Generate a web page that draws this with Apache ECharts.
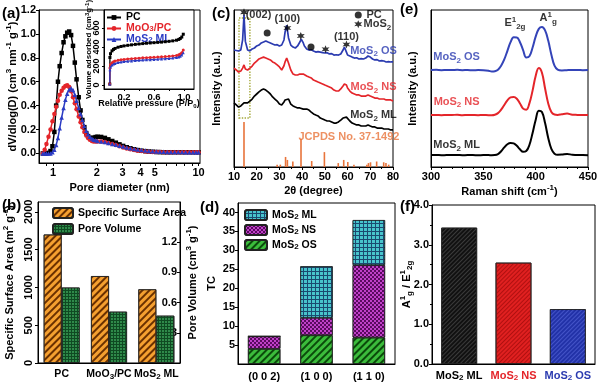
<!DOCTYPE html>
<html><head><meta charset="utf-8">
<script src="https://cdn.jsdelivr.net/npm/echarts@6/dist/echarts.min.js"></script>
<style>html,body{margin:0;padding:0;background:#fff}#c{width:600px;height:386px}</style>
</head><body><div id="c"></div>
<script>
// ---------- DATA ----------
// (a) pore size distribution
const poreD = [0.85,0.875,0.90,0.93,0.96,0.99,1.02,1.05,1.08,1.11,1.145,1.18,1.215,1.25,1.29,1.33,1.37,1.41,1.45,1.50,1.545,1.59,1.64,1.69,1.74,1.79,1.85,1.90,1.96,2.02,2.14,2.27,2.40,2.55,2.70,2.86,3.03,3.21,3.40,3.61,3.82,4.05,4.30,4.55,4.83,5.12,5.42,5.75,6.1,6.45,6.85,7.25,7.7,8.15,8.65,9.15,9.6,10.0];
const pvPC = [0,0,0,0.005,0.02,0.06,0.18,0.4,0.6,0.73,0.84,0.93,0.98,1.01,1.02,0.99,0.9,0.76,0.62,0.47,0.36,0.28,0.22,0.17,0.145,0.13,0.128,0.132,0.137,0.14,0.138,0.13,0.118,0.104,0.09,0.076,0.063,0.052,0.043,0.035,0.028,0.023,0.019,0.016,0.014,0.012,0.011,0.01,0.01,0.01,0.01,0.01,0.01,0.01,0.01,0.01,0.01,0.01];
const pvMoO3 = [0,0.03,0.08,0.14,0.2,0.27,0.33,0.39,0.44,0.49,0.525,0.55,0.565,0.57,0.555,0.52,0.47,0.42,0.37,0.31,0.26,0.22,0.18,0.15,0.13,0.115,0.105,0.1,0.1,0.1,0.1,0.095,0.088,0.08,0.07,0.06,0.05,0.042,0.035,0.028,0.023,0.02,0.017,0.015,0.013,0.012,0.011,0.01,0.01,0.01,0.01,0.01,0.01,0.01,0.01,0.01,0.01,0.01];
const pvMoS2 = [0,0,0,0,0,0.01,0.03,0.07,0.13,0.21,0.3,0.38,0.45,0.5,0.535,0.545,0.53,0.49,0.44,0.38,0.33,0.28,0.23,0.19,0.16,0.14,0.125,0.115,0.11,0.105,0.1,0.095,0.088,0.08,0.072,0.065,0.057,0.05,0.043,0.037,0.032,0.028,0.024,0.021,0.018,0.016,0.015,0.014,0.013,0.012,0.012,0.011,0.011,0.01,0.01,0.01,0.01,0.01];
// (a) inset isotherms
const isoP = [0.01,0.012,0.02,0.04,0.06,0.08,0.12,0.16,0.2,0.25,0.3,0.35,0.4,0.45,0.5,0.55,0.6,0.65,0.7,0.75,0.8,0.85,0.9,0.93,0.95,0.97,0.99];
const isoPC = [10,290,330,360,375,385,398,406,412,418,423,428,432,436,440,443,446,449,452,456,460,465,472,480,490,505,535];
const isoMoO3 = [10,180,215,235,245,252,260,266,270,274,277,280,283,286,288,290,292,294,297,299,302,306,312,318,326,340,370];
const isoMoS2 = [10,160,190,210,220,227,236,242,247,251,254,257,260,263,265,267,270,272,275,277,280,284,290,296,304,316,340];
// (b)
const bCats = ['PC','MoO_{3}/PC','MoS_{2} ML'];
const ssa = [1700,1150,975];
const poreVol = [0.75,0.51,0.47];
// (c) XRD
const xrdAngle = [10,11,12,13,13.8,14.4,15,16,17,18,19,20,21,22,23,24,25,26,27,28,29,30,31,32,32.5,33.2,34,35,36,37,38,39,39.6,40.5,41,42,43,44,45,46,47,48,49,50,51,52,53,54,55,56,57,58,58.6,59.5,60,61,62,63,64,65,66,67,68,69,70,71,72,73,74,75,76,77,78,79,80];
const xrdOS = [74.5,74.2,73.9,74.6,81,96.8,80,74.5,73.9,75.2,75.8,77.1,77.7,79,79.6,80.3,79.6,79,78.3,77.7,77.9,77.1,77.7,80.9,86,90.4,82.2,77.7,76.4,75.8,77.1,79.6,81.5,79,77.1,75.2,74.5,74.7,73.9,73.2,73.5,73.2,72.9,72.6,72.8,72,72.2,71.3,71.5,71.3,72,74.5,76.4,73.2,71.3,70.7,70,69.4,69.6,68.8,69,68.8,69.4,70.7,70,68.8,68.2,68.4,67.5,67.7,67.5,66.9,67.1,66.9,66.9];
const xrdNS = [63,61.8,60.5,61.1,63,65,62.4,61.8,63,64.3,66.2,67.5,68.8,69.4,70,69.4,68.8,68.2,66.9,66.2,65,63.7,61.8,64.5,67,69.4,66.2,61.8,59.2,58.6,58.6,59.2,59.9,59.2,58.6,58,57.3,56.7,55.4,54.8,54.1,53.5,52.9,52.2,51.6,51,50.3,49,48.4,48.4,49.7,51.6,52.9,52.2,50.3,48.4,47.1,46.5,45.9,45.9,45.2,45.2,45.2,45.9,45.2,44.6,43.9,43.9,43.3,43.3,43.3,42.7,42.7,42.7,42];
const xrdML = [40.8,39.5,38.2,38.9,40.1,40.8,40.1,40.8,42,43.3,45.2,46.5,47.8,49,49.7,49,47.8,46.5,44.6,43.3,42,40.1,39.5,41.4,42.7,43.9,43.3,40.1,38.9,38.2,37.6,37.6,37.6,36.9,36.9,36.9,36.3,35,33.8,33.1,32.5,31.2,30.6,29.9,29.3,29.3,28.7,28,28,28.7,29.9,31.2,31.8,31.8,30.6,29.3,28,27.4,26.8,26.8,26.1,26.1,26.1,26.8,26.1,25.5,25.5,24.8,24.8,24.8,24.2,24.2,24.2,23.6,23.6];
const jcpdsAngle = [14.4,29.0,30.4,32.7,33.5,35.9,39.5,44.2,49.8,55.9,58.3,60.1,62.8,68.5,69.2,70.1,72.8,75.9,76.9,78.1];
const jcpdsInt = [28.7,1.5,1.5,6.4,4.5,3.5,18,3.8,9.5,2.5,4.5,3.2,1.5,1.5,2.5,3,3.5,3,2.5,1.5];
const xrdStars = [[14.4,98.5],[33.5,88.5],[39.4,83.5],[50.3,75],[59.5,78],[64.7,91]];
const xrdDots = [[24.6,85.4],[43.9,76.4],[64.7,96.8]];
const xrdNotes = [['(002)',20.8,96.8,'#000'],['(100)',33.5,94,'#000'],['(110)',59.5,83,'#000'],['PC',71.7,96.8,'#000'],['MoS_{2}',73.1,91,'#000'],['MoS_{2} OS',71.4,74.1,'#2b3bb0'],['MoS_{2} NS',71.4,50.8,'#e4252a'],['MoS_{2} ML',71.4,33.1,'#000'],['JCPDS No. 37-1492',60.6,19.3,'#e8743b']];
// (d) texture coefficient
const tcCats = ['(0 0 2)','(1 0 0)','(1 1 0)'];
const tcOS = [4.0,7.6,7.0];
const tcNS = [3.3,4.6,19.1];
const tcML = [0,13.6,11.9];
// (e) Raman
const ramanShift = [300,305,310,315,320,325,330,335,340,345,350,355,358,361,364,367,370,373,376,379,382,385,388,391,394,397,400,403,406,409,412,415,418,421,425,430,435,440,445,450];
const ramanOS = [61.8,61.9,61.7,61.8,61.8,61.9,61.7,61.8,61.6,61.8,61.7,61.3,60.8,61.0,62.0,64.5,68.5,74,79.5,82.6,82.5,79.5,74.5,69.8,70.5,76,83,88,89.2,87,80.5,71.5,64.5,62,61.5,61.7,61.8,61.8,61.7,61.8];
const ramanNS = [33.1,33.2,33.0,33.1,33.1,33.3,33.0,33.2,33.1,33.0,33.1,33.0,33.0,33.3,34.3,36.5,39.5,42.5,44.3,44.6,43.5,40.5,37.2,36.5,40.5,48.5,58,63,60,50,40.5,35,33.4,33.2,33.6,34,33.3,33.2,33.1,33.1];
const ramanML = [7.6,7.7,7.5,7.6,7.6,7.7,7.5,7.6,7.6,7.5,7.6,7.6,7.5,7.6,8.2,10,12.5,14.5,15.3,15,13.5,11.3,9.7,10.2,14,21.5,30,35.8,35,28,18.5,11.5,8.5,7.8,7.9,8.3,7.8,7.6,7.6,7.5];
const ramanNotes = [['MoS_{2} OS',324.5,69.9,'#2b3bb0'],['MoS_{2} NS',324.5,41.6,'#e4252a'],['MoS_{2} ML',324.5,14,'#000'],['E^{1}_{2g}',380.2,91.5,'#000'],['A^{1}_{g}',412,94.7,'#000']];
// (f)
const fCats = ['MoS_{2} ML','MoS_{2} NS','MoS_{2} OS'];
const ratio = [3.43,2.55,1.38];

// ---------- STYLE ----------
const F = 'Liberation Sans';
const BLUE = '#2b3bc4', RED = '#e4252a', ORANGE = '#e8743b';
const RICH = {sub:{fontSize:8,lineHeight:8,verticalAlign:'bottom'}, sup:{fontSize:8,lineHeight:8,verticalAlign:'top'}};
const RICH_S = {sub:{fontSize:6,lineHeight:6,verticalAlign:'bottom'}, sup:{fontSize:6,lineHeight:6,verticalAlign:'top'}};
function md(s){return s.replace(/_\{([^}]*)\}/g,'{sub|$1}').replace(/\^\{([^}]*)\}/g,'{sup|$1}');}
function merge(a,b){const o=Object.assign({},a);for(const k in b){const v=b[k];if(v&&typeof v==='object'&&!Array.isArray(v)&&a&&a[k]&&typeof a[k]==='object'&&!Array.isArray(a[k]))o[k]=merge(a[k],v);else o[k]=v;}return o;}
const TXT = {color:'#000',fontFamily:F,fontWeight:'bold',fontSize:11};
const baseAxis = {
  axisLine:{show:true,onZero:false,lineStyle:{color:'#000',width:1}},
  axisTick:{show:true,length:3,lineStyle:{color:'#000',width:1}},
  axisLabel:Object.assign({margin:3,lineHeight:13,rich:RICH},TXT),
  splitLine:{show:false},
  nameLocation:'middle',
  nameMoveOverlap:false,
  nameTextStyle:Object.assign({lineHeight:15,rich:RICH},TXT)
};
const axis = o => { const r = merge(baseAxis,o); if (r.name) r.name = md(r.name); return r; };
const L10 = Math.log10;
const pairs = (xs,ys,fx)=>xs.map((x,i)=>[fx?fx(x):x,ys[i]]);
const minor = {show:true,splitNumber:2,length:2,lineStyle:{color:'#000'}};
const diag = (c,w,g)=>({symbol:'rect',symbolSize:1,color:c,dashArrayX:[1,0],dashArrayY:[w,g],rotation:-Math.PI/4});
const FCOL = ['#000',RED,'#2b3bb0'];
const FRICH = {};
FCOL.forEach((c,i)=>{FRICH['c'+i]={color:c,fontFamily:F,fontWeight:'bold',fontSize:11};FRICH['s'+i]={color:c,fontFamily:F,fontWeight:'bold',fontSize:8,lineHeight:8,verticalAlign:'bottom'};});
function colorRich(s,i){return s.split(/_\{([^}]*)\}/).map((p,j)=>p?`{${j%2?'s':'c'}${i}|${p}}`:'').join('');}
const disp = {'MoO3/PC':'MoO_{3}/PC','MoS2 ML':'MoS_{2} ML','TC-ML':'MoS_{2} ML','TC-NS':'MoS_{2} NS','TC-OS':'MoS_{2} OS'};

const grids = [
  {left:39,top:10,width:161,height:153},
  {left:104,top:10,width:90,height:79,backgroundColor:'#fff'},
  {left:38,top:202,width:142,height:161},
  {left:234,top:10,width:159,height:157},
  {left:238,top:203,width:157,height:161},
  {left:431,top:10,width:157,height:157},
  {left:432,top:205,width:163,height:159}
].map(g=>Object.assign({show:true,borderColor:'#000',borderWidth:1,containLabel:false,outerBoundsMode:'none'},g));

const series = [];
// (a)
[['PC',pvPC,'#000','rect'],['MoO3/PC',pvMoO3,RED,'circle'],['MoS2 ML',pvMoS2,BLUE,'triangle']].forEach(([n,d,c,s])=>{
  series.push({type:'line',name:n,xAxisIndex:0,yAxisIndex:0,data:pairs(poreD,d,L10),symbol:s,symbolSize:4.5,color:c,itemStyle:{color:c},lineStyle:{color:c,width:1.5}});
});
[['PC',isoPC,'#000','rect'],['MoO3/PC',isoMoO3,RED,'circle'],['MoS2 ML',isoMoS2,BLUE,'triangle']].forEach(([n,d,c,s])=>{
  series.push({type:'line',name:n,xAxisIndex:1,yAxisIndex:1,data:pairs(isoP,d),symbol:s,symbolSize:3,color:c,itemStyle:{color:c},lineStyle:{color:c,width:1.3},z:4});
});
// (b)
series.push({type:'bar',name:'Specific Surface Area',xAxisIndex:2,yAxisIndex:2,data:ssa,barWidth:18,barGap:'0%',
  itemStyle:{color:'#f5a030',borderColor:'#222',borderWidth:0.8,decal:diag('#6a3000',1.2,2.6)}});
series.push({type:'bar',name:'Pore Volume',xAxisIndex:2,yAxisIndex:3,data:poreVol,barWidth:18,barGap:'0%',
  itemStyle:{color:'#0f4a22',borderColor:'#222',borderWidth:0.8,decal:{symbol:'rect',symbolSize:1,color:'#2f8a4a',dashArrayX:[2,1],dashArrayY:[2,1]}}});
// (c)
[['XRD OS',xrdOS,'#2b3bb0'],['XRD NS',xrdNS,RED],['XRD ML',xrdML,'#000']].forEach(([n,d,c],k)=>{
  const s={type:'line',name:n,xAxisIndex:3,yAxisIndex:4,data:pairs(xrdAngle,d),symbol:'none',color:c,lineStyle:{color:c,width:1.7}};
  if(k===0) s.markArea={silent:true,itemStyle:{color:'rgba(0,0,0,0)',borderColor:'#a4a83a',borderWidth:1.4,borderType:'dotted'},data:[[{coord:[12.2,31.2]},{coord:[17,94.9]}]]};
  series.push(s);
});
series.push({type:'bar',name:'JCPDS',xAxisIndex:3,yAxisIndex:4,data:pairs(jcpdsAngle,jcpdsInt),barWidth:1.6,itemStyle:{color:ORANGE}});
series.push({type:'scatter',name:'stars',xAxisIndex:3,yAxisIndex:4,data:xrdStars,symbol:'path://M10 0L12.25 6.1L18.66 5L14.5 10L18.66 15L12.25 13.9L10 20L7.75 13.9L1.34 15L5.5 10L1.34 5L7.75 6.1Z',symbolSize:8,itemStyle:{color:'#000'},silent:true,z:6});
series.push({type:'scatter',name:'dots',xAxisIndex:3,yAxisIndex:4,data:xrdDots,symbol:'circle',symbolSize:7,itemStyle:{color:'#000'},silent:true,z:6});
const noteSeries=(notes,xi,yi)=>({type:'scatter',xAxisIndex:xi,yAxisIndex:yi,symbolSize:1,itemStyle:{color:'rgba(0,0,0,0)'},silent:true,z:7,
  label:{show:true,position:'inside',fontFamily:F,fontWeight:'bold',fontSize:11,lineHeight:15,rich:RICH},
  data:notes.map(n=>({value:[n[1],n[2]],label:{color:n[3],formatter:()=>md(n[0])}}))});
series.push(noteSeries(xrdNotes,3,4));
// (d)
[['TC-OS',tcOS,'#3cbc3c',diag('#0a4a0a',1.2,2.4)],
 ['TC-NS',tcNS,'#5a0a60',{symbol:'rect',symbolSize:1,color:'#c040c8',dashArrayX:[[2,2],[0,2,2,0]],dashArrayY:[2,0]}],
 ['TC-ML',tcML,'#1a4a70',{symbol:'rect',symbolSize:1,color:'#48c4cc',dashArrayX:[3,1],dashArrayY:[3,1]}]].forEach(([n,d,c,dec])=>{
  series.push({type:'bar',name:n,xAxisIndex:4,yAxisIndex:5,stack:'tc',data:d,barWidth:'62%',itemStyle:{color:c,borderColor:'#222',borderWidth:0.8,decal:dec}});
});
// (e)
[['Raman OS',ramanOS,'#3444b8'],['Raman NS',ramanNS,RED],['Raman ML',ramanML,'#000']].forEach(([n,d,c])=>{
  series.push({type:'line',name:n,xAxisIndex:5,yAxisIndex:6,data:pairs(ramanShift,d),symbol:'none',smooth:0.4,color:c,lineStyle:{color:c,width:2}});
});
series.push(noteSeries(ramanNotes,5,6));
// (f)
const fBase=['#111','#e02020','#2232a8'], fDec=['#3a3a3a','#b01010','#4454c8'];
series.push({type:'bar',name:'ratio',xAxisIndex:6,yAxisIndex:7,barWidth:'66%',
  data:ratio.map((v,i)=>({value:v,itemStyle:{color:fBase[i],borderColor:'#222',borderWidth:0.8,decal:diag(fDec[i],0.8,1.6)}}))});

const legText = {fontFamily:F,fontWeight:'bold',fontSize:10.5,color:'#000',rich:RICH};
const option = {
  animation:false,
  backgroundColor:'#fff',
  grid:grids,
  xAxis:[
    axis({gridIndex:0,type:'value',min:L10(0.8),max:1.01,name:'Pore diameter (nm)',nameGap:17,
      axisLabel:{customValues:[1,2,3,4,5,10].map(L10),formatter:v=>String(Math.round(Math.pow(10,v)))},
      axisTick:{customValues:[0.9,1,2,3,4,5,6,7,8,9,10].map(L10)}}),
    axis({gridIndex:1,type:'value',min:-0.067,max:1.133,name:'Relative pressure (P/P_{0})',nameGap:9,
      axisLabel:{fontSize:9.5,margin:2,customValues:[0.2,0.6,1.0],formatter:v=>v.toFixed(1)},
      axisTick:{length:2,customValues:[0.2,0.4,0.6,0.8,1.0]},nameTextStyle:{fontSize:9,lineHeight:11,rich:RICH_S}}),
    axis({gridIndex:2,type:'category',data:bCats,axisTick:{show:false},axisLabel:{margin:5,interval:0,fontSize:10.5,formatter:v=>md(v)}}),
    axis({gridIndex:3,type:'value',min:10,max:80,interval:10,name:'2θ (degree)',nameGap:16,minorTick:minor}),
    axis({gridIndex:4,type:'category',data:tcCats,axisTick:{show:false},axisLabel:{margin:6,interval:0}}),
    axis({gridIndex:5,type:'value',min:300,max:450,interval:50,name:'Raman shift (cm^{-1})',nameGap:17,minorTick:merge(minor,{splitNumber:5})}),
    axis({gridIndex:6,type:'category',data:fCats,axisTick:{show:false},axisLabel:{margin:5,interval:0,formatter:(v,i)=>colorRich(v,i),rich:FRICH}})
  ],
  yAxis:[
    axis({gridIndex:0,type:'value',min:-0.08,max:1.2,name:'dV/dlog(D) (cm^{3} nm^{-1} g^{-1})',nameGap:19,
      axisLabel:{customValues:[0,0.2,0.4,0.6,0.8,1.0,1.2],formatter:v=>v.toFixed(1)},axisTick:{customValues:[0,0.2,0.4,0.6,0.8,1.0,1.2]}}),
    axis({gridIndex:1,type:'value',min:-42,max:790,name:'Volume adsorbed (cm^{3}g^{-1})',nameGap:10,
      axisLabel:{fontSize:9,rotate:90,margin:1,customValues:[0,200,400,600],formatter:v=>String(v)},axisTick:{length:2,customValues:[0,200,400,600]},
      nameTextStyle:{fontSize:8,lineHeight:10,rich:RICH_S}}),
    axis({gridIndex:2,type:'value',min:0,max:2130,name:'Specific Surface Area (m^{2} g^{-1})',nameGap:21,
      axisLabel:{rotate:90,customValues:[0,500,1000,1500,2000],formatter:v=>String(v)},axisTick:{customValues:[0,500,1000,1500,2000]}}),
    axis({gridIndex:2,type:'value',position:'right',min:0,max:1.6,name:'Pore Volume (cm^{3} g^{-1})',nameGap:5,nameRotate:90,
      axisLabel:{inside:true,customValues:[0.3,0.6,0.9,1.2],formatter:v=>v.toFixed(1)},axisTick:{inside:true,customValues:[0.3,0.6,0.9,1.2,1.5]}}),
    axis({gridIndex:3,type:'value',min:0,max:100,name:'Intensity (a.u.)',nameGap:10,axisLabel:{show:false},axisTick:{show:false}}),
    axis({gridIndex:4,type:'value',min:0,max:42.5,name:'TC',nameGap:19,
      axisLabel:{customValues:[5,10,15,20,25,30,35,40]},axisTick:{customValues:[5,10,15,20,25,30,35,40]}}),
    axis({gridIndex:5,type:'value',min:0,max:100,name:'Intensity (a.u.)',nameGap:11,axisLabel:{show:false},axisTick:{show:false}}),
    axis({gridIndex:6,type:'value',min:0,max:4,interval:1,name:'A^{1}_{g} / E^{1}_{2g}',nameGap:18,
      axisLabel:{formatter:v=>v.toFixed(1)},minorTick:minor})
  ],
  legend:[
    {data:[{name:'PC',textStyle:{color:'#000'}},{name:'MoO3/PC',textStyle:{color:RED}},{name:'MoS2 ML',textStyle:{color:BLUE}}],
     left:106,top:12,orient:'vertical',itemWidth:14,itemHeight:6,itemGap:0,padding:0,selectedMode:false,
     textStyle:merge(legText,{lineHeight:9}),formatter:n=>md(disp[n]||n)},
    {data:['Specific Surface Area','Pore Volume'],left:52,top:207,orient:'vertical',itemWidth:20,itemHeight:10,itemGap:4,padding:0,selectedMode:false,
     textStyle:legText},
    {data:['TC-ML','TC-NS','TC-OS'],left:244,top:209,orient:'vertical',itemWidth:22,itemHeight:10,itemGap:3,padding:0,selectedMode:false,
     textStyle:legText,formatter:n=>md(disp[n]||n)}
  ],
  graphic:[['(a)',2,6],['(b)',2,198],['(c)',212,6],['(d)',200,200],['(e)',400,2],['(f)',400,199]].map(([t,x,y])=>({
    type:'text',left:x,top:y,style:{text:t,font:'bold 15px "Liberation Sans"',fill:'#000'}})),
  series
};
const chart = echarts.init(document.getElementById('c'),null,{renderer:'canvas',width:600,height:386});
chart.setOption(option);
</script></body></html>
